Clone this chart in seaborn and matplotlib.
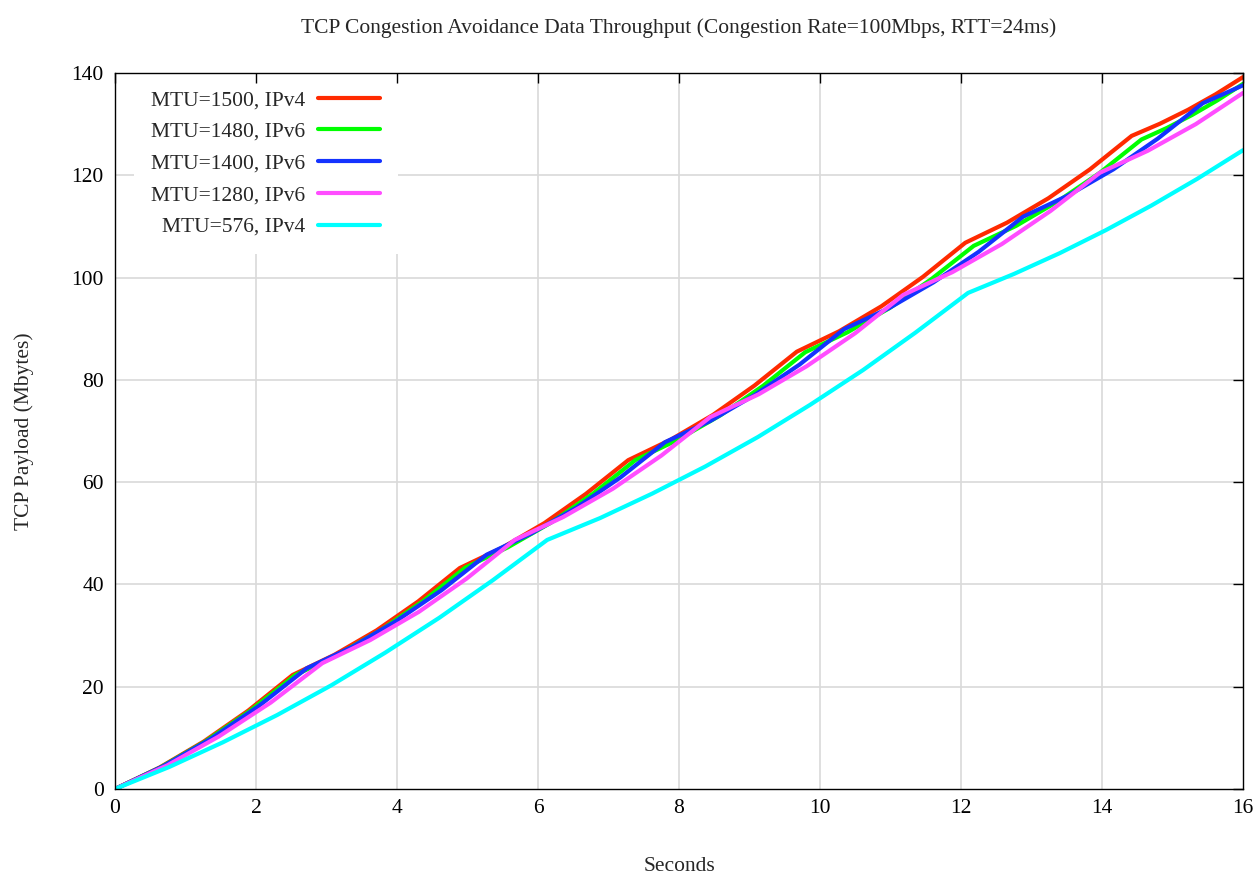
import pandas as pd
import seaborn as sns
import matplotlib.pyplot as plt
from matplotlib.lines import Line2D

# Series labels and colours (gnuplot-like palette)
labels = ["MTU=1500, IPv4", "MTU=1480, IPv6", "MTU=1400, IPv6", "MTU=1280, IPv6", "MTU=576, IPv4"]
colors = ["#ff2a00", "#00ff00", "#1433ff", "#ff4dff", "#00ffff"]

# Values (seconds, Mbytes)
t_1500 = [0, 0.63, 1.26, 1.89, 2.52, 3.11, 3.71, 4.30, 4.89, 5.49, 6.09, 6.68, 7.28, 7.88, 8.48,
          9.07, 9.67, 10.27, 10.87, 11.46, 12.06, 12.65, 13.24, 13.83, 14.42, 14.82, 15.22, 15.61, 16.0]
y_1500 = [0, 4.18, 9.29, 15.33, 22.3, 26.22, 31.01, 36.67, 43.2, 47.16, 51.99, 57.71, 64.3, 68.28, 73.13,
          78.88, 85.5, 89.49, 94.38, 100.14, 106.8, 110.72, 115.51, 121.17, 127.7, 130.07, 132.8, 135.82, 139.2]

t_1480 = [0, 0.64, 1.28, 1.92, 2.56, 3.16, 3.77, 4.37, 4.97, 5.57, 6.18, 6.78, 7.38, 7.98, 8.59,
          9.19, 9.79, 10.39, 10.99, 11.58, 12.18, 12.78, 13.37, 13.97, 14.56, 14.92, 15.28, 15.64, 16.0]
y_1480 = [0, 4.18, 9.29, 15.33, 22.3, 26.24, 31.05, 36.74, 43.3, 47.24, 52.05, 57.74, 64.3, 68.26, 73.09,
          78.81, 85.4, 89.3, 94.07, 99.7, 106.2, 110.1, 114.87, 120.5, 127.0, 129.25, 131.81, 134.68, 137.87]

t_1400 = [0, 0.68, 1.36, 2.04, 2.72, 3.36, 3.99, 4.63, 5.27, 5.90, 6.54, 7.17, 7.80, 8.44,
          9.07, 9.71, 10.34, 10.98, 11.61, 12.25, 12.88, 13.52, 14.16, 14.79, 15.43, 15.72, 16.0]
y_1400 = [0, 4.43, 9.83, 16.23, 23.6, 27.76, 32.85, 38.86, 45.8, 49.93, 54.97, 60.93, 67.8, 71.94,
          77.01, 82.99, 89.9, 94.03, 99.07, 105.03, 111.9, 116.06, 121.15, 127.16, 134.1, 135.87, 137.6]

t_1280 = [0, 0.74, 1.47, 2.21, 2.94, 3.62, 4.31, 4.99, 5.67, 6.36, 7.06, 7.75, 8.44, 9.13,
          9.81, 10.50, 11.18, 11.88, 12.58, 13.27, 13.97, 14.65, 15.33, 16.0]
y_1280 = [0, 4.61, 10.25, 16.91, 24.6, 29.12, 34.64, 41.17, 48.7, 53.2, 58.7, 65.2, 72.7, 77.18,
          82.66, 89.13, 96.6, 101.08, 106.56, 113.03, 120.5, 124.8, 130.0, 136.1]

t_576 = [0, 0.77, 1.53, 2.30, 3.07, 3.83, 4.60, 5.36, 6.13, 6.88, 7.62, 8.37, 9.12, 9.86,
         10.61, 11.35, 12.1, 12.75, 13.4, 14.05, 14.7, 15.35, 16.0]
y_576 = [0, 4.31, 9.13, 14.46, 20.29, 26.63, 33.48, 40.83, 48.7, 52.97, 57.76, 63.04, 68.83, 75.12,
         81.91, 89.2, 97.0, 100.7, 104.77, 109.24, 114.08, 119.3, 124.9]

times = [t_1500, t_1480, t_1400, t_1280, t_576]
values = [y_1500, y_1480, y_1400, y_1280, y_576]

x_ticks = list(range(0, 17, 2))
y_ticks = list(range(0, 141, 20))

# Long format for seaborn
frames = []
for lab, t, y in zip(labels, times, values):
    frames.append(pd.DataFrame({"Seconds": t, "Payload": y, "Series": lab}))
df = pd.concat(frames, ignore_index=True)

sns.set_style("white")
plt.rcParams["font.family"] = ["Liberation Serif", "DejaVu Serif"]
fs = 15.5

fig = plt.figure(figsize=(12.57, 8.75), dpi=100)
ax = fig.add_axes([0.0915, 0.0983, 0.8974, 0.8183])

sns.lineplot(data=df, x="Seconds", y="Payload", hue="Series", hue_order=labels,
             palette=colors, linewidth=3, estimator=None, sort=False, legend=False, ax=ax)

ax.set_xlim(0, 16)
ax.set_ylim(0, 140)
ax.set_xticks(x_ticks)
ax.set_yticks(y_ticks)

# grid drawn by hand so the legend box can hide it while ticks stay on top
for xv in x_ticks[1:-1]:
    ax.axvline(xv, color="#d9d9d9", linewidth=1.2, zorder=0.3)
for yv in y_ticks[1:-1]:
    ax.axhline(yv, color="#d9d9d9", linewidth=1.2, zorder=0.3)
ax.set_axisbelow(False)

for s in ax.spines.values():
    s.set_color("black")
    s.set_linewidth(1.0)
ax.tick_params(direction="in", length=7, width=1, top=True, right=True,
               labelsize=fs, colors="black")
ax.tick_params(axis="x", pad=7)
ax.tick_params(axis="y", pad=8)

ax.set_title("TCP Congestion Avoidance Data Throughput (Congestion Rate=100Mbps, RTT=24ms)",
             fontsize=fs, pad=29)
ax.set_xlabel("Seconds", fontsize=fs, labelpad=28)
ax.set_ylabel("TCP Payload (Mbytes)", fontsize=fs, labelpad=27)

handles = [Line2D([], [], color=c, linewidth=3) for c in colors]
leg = ax.legend(handles, labels, loc="upper right", bbox_to_anchor=(0.2505, 1.0),
                markerfirst=False, frameon=True, facecolor="white", edgecolor="none",
                framealpha=1, fancybox=False, fontsize=fs, handlelength=2.9,
                handletextpad=0.6, labelspacing=0.54, borderpad=0.8, borderaxespad=0)
leg.set_zorder(1)

fig.savefig("out.png", dpi=100)
